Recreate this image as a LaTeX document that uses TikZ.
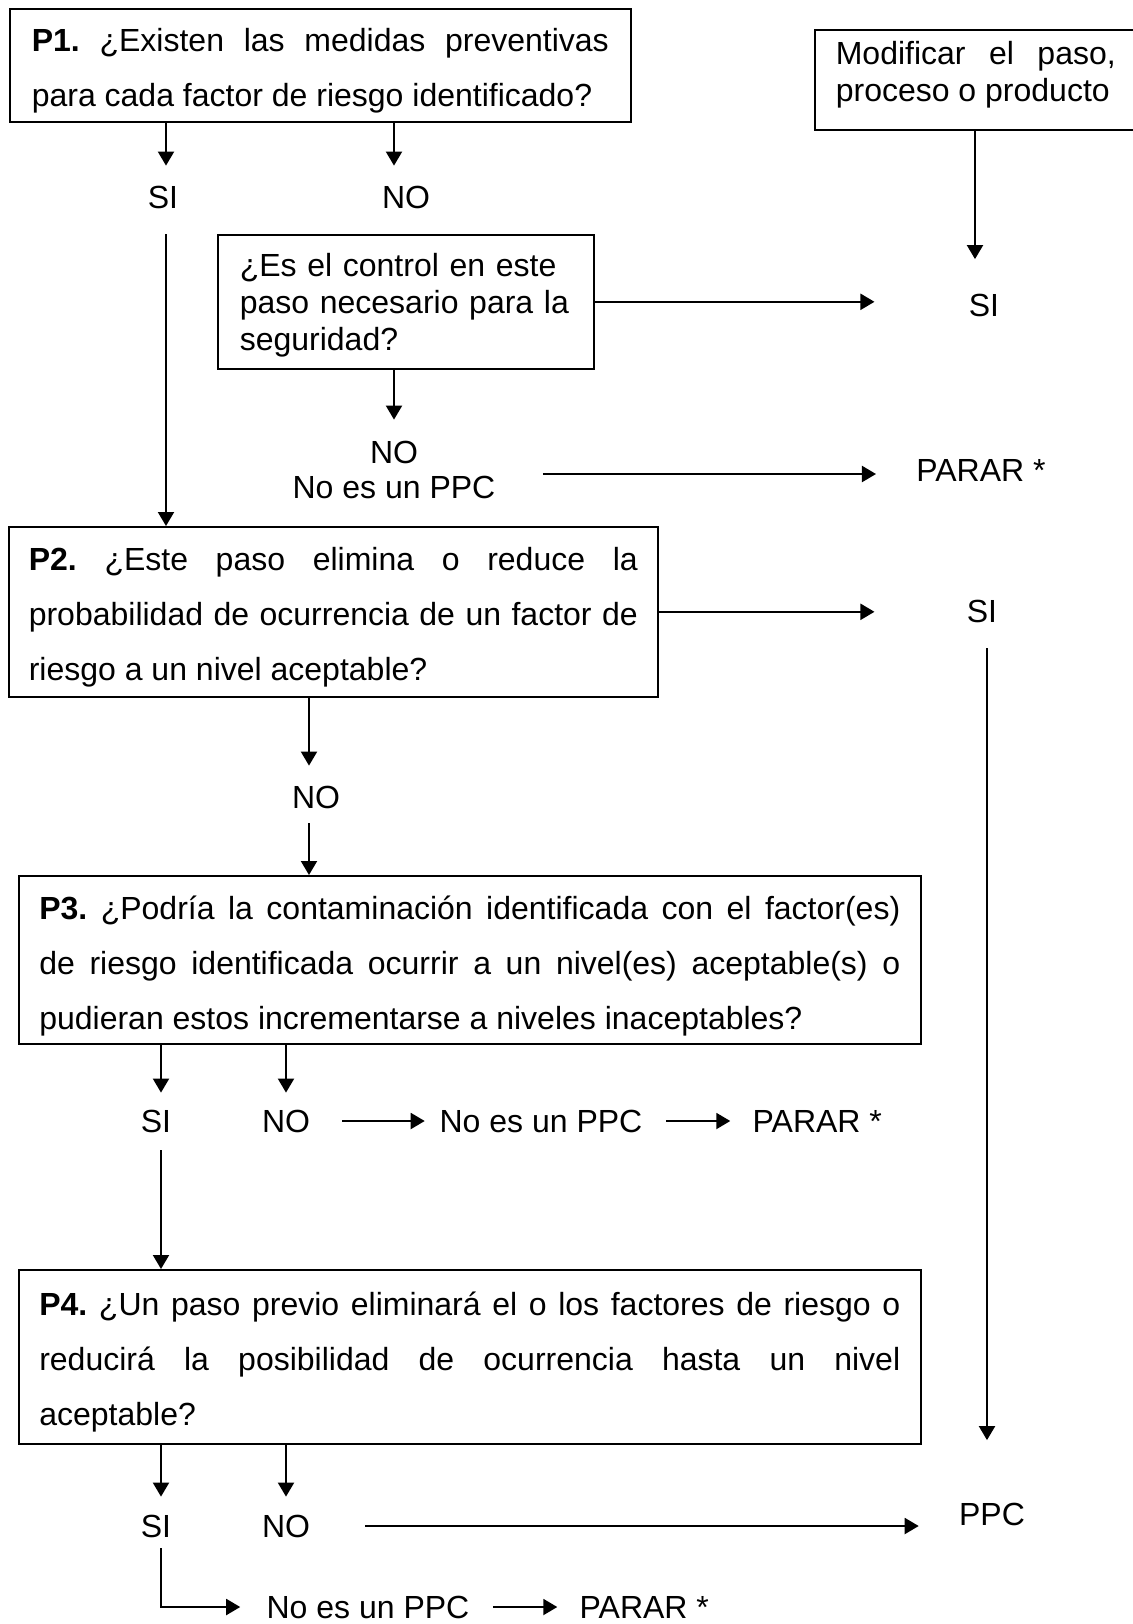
\documentclass[tikz,border=0pt]{standalone}
\usepackage{fontspec}
\setmainfont{Liberation Sans}
\usepackage{tikz}
\usetikzlibrary{
  arrows.meta,
  positioning
}
\hyphenpenalty=10000
\exhyphenpenalty=10000
\tolerance=10000
\frenchspacing
% taller first line, pushes the box text down a little
\newcommand{\qstrut}{\rule{0pt}{17.5pt}}
\tikzset{
  qbox/.style={
    draw, line width=0.8pt, anchor=north west, align=justify,
    inner xsep=10pt, inner ysep=0pt,
    font=\fontsize{16pt}{27.5pt}\selectfont
  },
  notebox/.style={qbox, font=\fontsize{16pt}{18.3pt}\selectfont},
  lbl/.style={inner sep=0pt, text height=11.5pt, text depth=0pt, font=\fontsize{16pt}{19pt}\selectfont},
  flow/.style={-{Triangle[length=7pt,width=8pt]}, line width=1pt}
}

\begin{document}
\begin{tikzpicture}[x=0.5pt, y=-0.5pt]
  \useasboundingbox (0,0) rectangle (1132,1624);
  % boxes
  \node[qbox, text width=288.5pt, inner xsep=11pt, minimum height=56.5pt] (p1) at (9,8)
    {\qstrut\textbf{P1.} ¿Existen las medidas preventivas para cada factor de riesgo identificado?};
  \node[notebox, text width=140pt, inner xsep=10.5pt, inner ysep=6pt] (modif) at (814,29)
    {Modificar el paso, proceso o producto\rule[-8.3pt]{0pt}{0pt}};
  \node[notebox, text width=166pt, inner xsep=11pt, minimum height=67pt, align=left] (ctrl) at (217,234)
    {\rule{0pt}{15pt}¿Es el control en este\\paso necesario para la\\seguridad?};
  \node[qbox, text width=304.5pt, minimum height=85pt] (p2) at (8,526)
    {\qstrut\textbf{P2.} ¿Este paso elimina o reduce la probabilidad de ocurrencia de un factor de riesgo a un nivel aceptable?};
  \node[qbox, text width=430.5pt, inner xsep=10.25pt, minimum height=84pt] (p3) at (18,875)
    {\rule{0pt}{18.5pt}\textbf{P3.} ¿Podría la contaminación identificada con el factor(es) de riesgo identificada ocurrir a un nivel(es) aceptable(s) o pudieran estos incrementarse a niveles inaceptables?};
  \node[qbox, text width=430.5pt, inner xsep=10.25pt, minimum height=87pt] (p4) at (18,1269)
    {\qstrut\textbf{P4.} ¿Un paso previo eliminará el o los factores de riesgo o\linebreak reducirá la posibilidad de ocurrencia hasta un nivel\linebreak aceptable?};

  % answers
  \node[lbl] (si1) at (163,197) {SI};
  \node[lbl] (no1) at (406,197) {NO};
  \node[lbl] (sir1) at (984,305) {SI};
  \node[lbl] (no2) at (394,452) {NO};
  \node[lbl] (nopcc1) at (394,487) {No es un PPC};
  \node[lbl] (parar1) at (981,470) {PARAR *};
  \node[lbl] (sir2) at (982,611) {SI};
  \node[lbl] (no3) at (316,797) {NO};
  \node[lbl] (si3) at (156,1121) {SI};
  \node[lbl] (no4) at (286,1121) {NO};
  \node[lbl] (nopcc2) at (541,1121) {No es un PPC};
  \node[lbl, right=54.75pt of nopcc2] (parar2) {PARAR *};
  \node[lbl] (si4) at (156,1526) {SI};
  \node[lbl] (no5) at (286,1526) {NO};
  \node[lbl] (ppc) at (992,1514) {PPC};
  \node[lbl] (nopcc3) at (368,1607) {No es un PPC};
  \node[lbl, right=54.75pt of nopcc3] (parar3) {PARAR *};

  % P1
  \draw[flow, shorten >=9.75pt] ([xshift=1.5pt]p1.south -| si1.north) -- ([xshift=1.5pt]si1.north);
  \draw[flow, shorten >=9.75pt] ([xshift=-6pt]p1.south -| no1.north) -- ([xshift=-6pt]no1.north);
  \draw[flow, shorten <=12.75pt] ([xshift=1.5pt]si1.south) -- ([xshift=1.5pt]si1.south |- p2.north);
  \draw[flow, shorten >=17pt] ([xshift=-4.5pt]modif.south -| sir1.north) -- ([xshift=-4.5pt]sir1.north);
  \draw[flow, shorten >=47pt] (ctrl.east) -- (ctrl.east -| sir1.west);
  \draw[flow, shorten >=10.25pt] (ctrl.south -| no2.north) -- (no2.north);
  \draw[flow, shorten <=23.5pt, shorten >=20pt] ([yshift=6.5pt]nopcc1.east) -- ([yshift=6.5pt]nopcc1.east -| parar1.west);
  % P2
  \draw[flow, shorten >=46pt] (p2.east) -- (p2.east -| sir2.west);
  \draw[flow, shorten <=12.75pt, shorten >=31pt] ([xshift=2.5pt]sir2.south) -- ([xshift=2.5pt]sir2.south |- ppc.north);
  \draw[flow, shorten >=9.75pt] ([xshift=-3.5pt]p2.south -| no3.north) -- ([xshift=-3.5pt]no3.north);
  \draw[flow, shorten <=7.25pt] ([xshift=-3.5pt]no3.south) -- ([xshift=-3.5pt]no3.south |- p3.north);
  % P3
  \draw[flow, shorten >=8.25pt] ([xshift=2.5pt]p3.south -| si3.north) -- ([xshift=2.5pt]si3.north);
  \draw[flow, shorten >=8.25pt] (p3.south -| no4.north) -- (no4.north);
  \draw[flow, shorten <=16pt, shorten >=7.25pt] (no4.east) -- (nopcc2.west);
  \draw[flow, shorten <=11.75pt, shorten >=11pt] (nopcc2.east) -- (parar2.west);
  \draw[flow, shorten <=8.75pt] ([xshift=2.5pt]si3.south) -- ([xshift=2.5pt]si3.south |- p4.north);
  % P4
  \draw[flow, shorten >=8.75pt] ([xshift=2.5pt]p4.south -| si4.north) -- ([xshift=2.5pt]si4.north);
  \draw[flow, shorten >=8.75pt] (p4.south -| no5.north) -- (no5.north);
  \draw[flow, shorten <=27.5pt, shorten >=20pt] (no5.east) -- (no5.east -| ppc.west);
  \draw[flow, shorten <=5.25pt, shorten >=13pt] ([xshift=2.5pt]si4.south) |- (nopcc3.west);
  \draw[flow, shorten <=11.5pt, shorten >=11pt] (nopcc3.east) -- (parar3.west);
\end{tikzpicture}
\end{document}
